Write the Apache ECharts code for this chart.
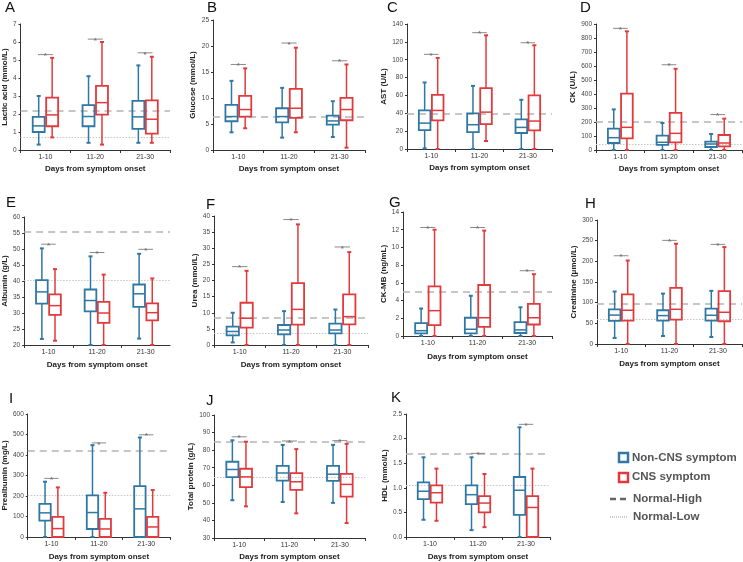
<!DOCTYPE html>
<html>
<head>
    <meta charset="UTF-8">
    <title>Blood tests by days from symptom onset</title>
    <script type="text/javascript" src="https://cdn.jsdelivr.net/npm/echarts@6/dist/echarts.min.js"></script>
    <style>
        html, body { margin: 0; padding: 0; background: #fff; }
        #main { width: 743px; height: 562px; }
    </style>
</head>
<body>
<div id="main"></div>
<script type="text/javascript">
    var categories = ['1-10', '11-20', '21-30'];

    // every box: [min, Q1, median, Q3, max], one per period
    // ref: [Normal-High, Normal-Low], scale: [min, max, interval]
    var lacticNon = [[0.3, 1.0, 1.34, 1.84, 3.0], [0.4, 1.32, 1.86, 2.49, 4.1], [0.4, 1.17, 1.84, 2.73, 4.7]];
    var lacticCns = [[0.7, 1.32, 1.95, 2.91, 5.12], [0.3, 1.97, 2.63, 3.56, 6.0], [0.4, 0.91, 1.71, 2.76, 5.18]];
    var lacticSig = [5.3, 6.16, 5.4];
    var lacticRef = [2.2, 0.7];
    var lacticScale = [0, 7, 1];

    var glucoseNon = [[3.4, 5.53, 6.43, 8.68, 13.3], [2.38, 5.33, 6.43, 8.03, 11.95], [2.5, 4.88, 5.59, 6.62, 9.38]];
    var glucoseCns = [[4.18, 6.43, 7.78, 10.4, 15.7], [3.4, 6.17, 8.03, 11.76, 19.67], [0.45, 5.72, 7.78, 10.03, 16.45]];
    var glucoseSig = [16.45, 20.57, 17.16];
    var glucoseRef = [6.3, null];
    var glucoseScale = [0, 25, 5];

    var astNon = [[0.7, 21.2, 29, 43.2, 74.5], [0, 19, 27.2, 39.8, 70.7], [0, 17.9, 24.2, 33.1, 55.1]];
    var astCns = [[0, 32, 43.2, 60.7, 102], [8.9, 27.9, 41.3, 68.1, 127.3], [0, 20.8, 31.3, 60, 116.2]];
    var astSig = [106, 130.3, 119];
    var astRef = [40, null];
    var astScale = [0, 140, 20];

    var ckNon = [[0, 50, 88, 152.8, 290], [0, 36, 55, 102.6, 193], [0, 21.5, 43, 59.7, 114.6]];
    var ckCns = [[0, 83.5, 162, 403, 847.5], [0, 55, 119, 265, 580], [0, 26, 50, 107, 224]];
    var ckSig = [869, 609, 253];
    var ckRef = [200, 38];
    var ckScale = [0, 900, 100];

    var albuminNon = [[21.9, 32.9, 36.6, 40.3, 50.2], [20, 30.5, 33.9, 37.35, 47.7], [22, 31.9, 36, 38.9, 48.5]];
    var albuminCns = [[21.35, 29.4, 32.3, 35.8, 43.7], [20, 26.9, 30, 33.5, 42], [20, 27.7, 30.1, 33, 40.8]];
    var albuminSig = [51.5, 48.9, 49.9];
    var albuminRef = [55.3, 40.2];
    var albuminScale = [20, 60, 5];

    var ureaNon = [[0.8, 3.0, 4.2, 5.7, 10], [0, 3.3, 4.65, 6.2, 10.5], [0, 3.6, 4.65, 6.6, 11]];
    var ureaCns = [[0, 5.4, 8.3, 13.1, 23], [0, 6.3, 11.05, 19.2, 37.4], [0, 6.4, 8.8, 15.7, 28.8]];
    var ureaSig = [24.3, 38.9, 30.4];
    var ureaRef = [8.6, 3.5];
    var ureaScale = [0, 40, 5];

    var ckmbNon = [[0, 0.3, 0.6, 1.45, 3.1], [0, 0.3, 0.76, 2.06, 4.54], [0, 0.34, 0.69, 1.56, 3.24]];
    var ckmbCns = [[0, 1.22, 2.86, 5.6, 12.0], [0, 1.03, 2.06, 5.76, 11.9], [0, 1.3, 2.06, 3.63, 6.98]];
    var ckmbSig = [12.25, 12.25, 7.37];
    var ckmbRef = [5, null];
    var ckmbScale = [0, 14, 2];

    var creatNon = [[14.6, 56, 70, 84, 127], [19.4, 56.6, 68.7, 81.7, 122], [17, 56.6, 69.5, 85.7, 128.6]];
    var creatCns = [[0, 56.6, 81.7, 120, 202], [0, 59, 84, 135.8, 242.6], [0, 55, 76.8, 127.8, 234.5]];
    var creatSig = [213.5, 250.7, 241];
    var creatRef = [97, 59];
    var creatScale = [0, 300, 50];

    var preNon = [[0, 80, 117.7, 162, 269.7], [0, 39, 119.3, 202.7, 448], [0, 0, 137.3, 248.5, 485.5]];
    var preCns = [[0, 0, 41, 98, 242], [0, 0, 39.2, 88.3, 215.8], [0, 0, 49, 98, 229]];
    var preSig = [286, 459, 498.6];
    var preRef = [423, 202];
    var preScale = [0, 600, 100];

    var proteinNon = [[51.5, 64.6, 69, 73.4, 85.6], [50.5, 62.7, 67, 71, 83], [50, 62.5, 66.3, 71, 83]];
    var proteinCns = [[48, 59, 64.8, 69.4, 84.8], [44, 57.4, 62, 66.9, 80.6], [38.5, 53.5, 60.5, 66.5, 83.6]];
    var proteinSig = [87.6, 85.2, 85.4];
    var proteinRef = [85, 64.4];
    var proteinScale = [30, 100, 10];

    var hdlNon = [[0.35, 0.77, 0.93, 1.11, 1.62], [0.14, 0.67, 0.86, 1.05, 1.62], [0, 0.45, 0.95, 1.22, 2.23]];
    var hdlCns = [[0.33, 0.7, 0.9, 1.05, 1.39], [0.2, 0.5, 0.69, 0.83, 1.28], [0, 0, 0.6, 0.83, 1.39]];
    var hdlSig = [null, 1.7, 2.29];
    var hdlRef = [1.7, 1.05];
    var hdlScale = [0, 2.5, 0.5];

    var panels = [
        {letter: 'A', name: 'Lactic acid (mmol/L)', non: lacticNon, cns: lacticCns, sig: lacticSig, ref: lacticRef, scale: lacticScale},
        {letter: 'B', name: 'Glucose (mmol/L)', non: glucoseNon, cns: glucoseCns, sig: glucoseSig, ref: glucoseRef, scale: glucoseScale},
        {letter: 'C', name: 'AST (U/L)', non: astNon, cns: astCns, sig: astSig, ref: astRef, scale: astScale},
        {letter: 'D', name: 'CK (U/L)', non: ckNon, cns: ckCns, sig: ckSig, ref: ckRef, scale: ckScale},
        {letter: 'E', name: 'Albumin (g/L)', non: albuminNon, cns: albuminCns, sig: albuminSig, ref: albuminRef, scale: albuminScale},
        {letter: 'F', name: 'Urea (mmol/L)', non: ureaNon, cns: ureaCns, sig: ureaSig, ref: ureaRef, scale: ureaScale},
        {letter: 'G', name: 'CK-MB (ng/mL)', non: ckmbNon, cns: ckmbCns, sig: ckmbSig, ref: ckmbRef, scale: ckmbScale},
        {letter: 'H', name: 'Creatinine (μmol/L)', non: creatNon, cns: creatCns, sig: creatSig, ref: creatRef, scale: creatScale},
        {letter: 'I', name: 'Prealbumin (mg/L)', non: preNon, cns: preCns, sig: preSig, ref: preRef, scale: preScale},
        {letter: 'J', name: 'Total protein (g/L)', non: proteinNon, cns: proteinCns, sig: proteinSig, ref: proteinRef, scale: proteinScale},
        {letter: 'K', name: 'HDL (mmol/L)', non: hdlNon, cns: hdlCns, sig: hdlSig, ref: hdlRef, scale: hdlScale}
    ];

    // grid boxes and label spots, in px
    var layout = [
        {left: 20, top: 24, width: 150, height: 126, gap: 11, tgap: 15, lx: 5, ly: 0},
        {left: 213, top: 20, width: 152, height: 130, gap: 16, tgap: 15, lx: 207, ly: 0},
        {left: 407, top: 24, width: 145, height: 125, gap: 18, tgap: 15, lx: 387, ly: 0},
        {left: 596, top: 24, width: 146, height: 126, gap: 14, tgap: 15, lx: 580, ly: 0},
        {left: 23, top: 217, width: 147, height: 128, gap: 11, tgap: 16, lx: 6, ly: 195},
        {left: 214, top: 216, width: 154, height: 129, gap: 9, tgap: 16, lx: 206, ly: 197},
        {left: 403, top: 212, width: 149, height: 124, gap: 14, tgap: 17, lx: 389, ly: 195},
        {left: 597, top: 220, width: 145, height: 124, gap: 18, tgap: 16, lx: 585, ly: 196},
        {left: 25, top: 414, width: 145, height: 123, gap: 17, tgap: 16, lx: 9, ly: 391},
        {left: 214, top: 415, width: 151, height: 123, gap: 18, tgap: 15, lx: 206, ly: 393},
        {left: 406, top: 414, width: 144, height: 123, gap: 17, tgap: 16, lx: 391, ly: 390}
    ];

    var BLUE = '#2f78a4';
    var RED = '#e23a3c';
    var FONT = '"Liberation Sans", Arial, sans-serif';

    function renderBox(params, api) {
        var cat = api.value(0);
        var grp = api.value(1);
        var band = api.size([1, 0])[0];
        var off = (grp === 0 ? -1 : 1) * band * 0.135;
        var hw = band * 0.12;
        var pMin = api.coord([cat, api.value(2)]);
        var pQ1 = api.coord([cat, api.value(3)]);
        var pMed = api.coord([cat, api.value(4)]);
        var pQ3 = api.coord([cat, api.value(5)]);
        var pMax = api.coord([cat, api.value(6)]);
        var x = pMin[0] + off;
        var color = grp === 0 ? BLUE : RED;
        var st = {stroke: color, lineWidth: 1.5, fill: null};
        var cap = {stroke: color, lineWidth: 2};
        return {
            type: 'group',
            children: [
                {type: 'line', shape: {x1: x, y1: pMax[1], x2: x, y2: pQ3[1]}, style: st},
                {type: 'line', shape: {x1: x, y1: pQ1[1], x2: x, y2: pMin[1]}, style: st},
                {type: 'line', shape: {x1: x - 2, y1: pMax[1], x2: x + 2, y2: pMax[1]}, style: cap},
                {type: 'line', shape: {x1: x - 2, y1: pMin[1], x2: x + 2, y2: pMin[1]}, style: cap},
                {type: 'rect', shape: {x: x - hw, y: pQ3[1], width: hw * 2, height: pQ1[1] - pQ3[1]},
                    style: {stroke: color, lineWidth: 1.8, fill: 'rgba(255,255,255,0)'}},
                {type: 'line', shape: {x1: x - hw, y1: pMed[1], x2: x + hw, y2: pMed[1]}, style: {stroke: color, lineWidth: 1.5}}
            ]
        };
    }

    function renderSig(params, api) {
        var p = api.coord([api.value(0), api.value(1)]);
        var band = api.size([1, 0])[0];
        var hw = band * 0.15;
        return {
            type: 'group',
            children: [
                {type: 'line', shape: {x1: p[0] - hw, y1: p[1], x2: p[0] + hw, y2: p[1]}, style: {stroke: '#8a8a8a', lineWidth: 1}},
                {type: 'text', x: p[0], y: p[1] + 1.5,
                    style: {text: '*', fill: '#777', font: 'bold 8px ' + FONT, align: 'center', verticalAlign: 'middle'}}
            ]
        };
    }

    var grids = [], xAxes = [], yAxes = [], series = [], graphics = [];

    panels.forEach(function (p, i) {
        var l = layout[i];
        grids.push({left: l.left, top: l.top, width: l.width, height: l.height});
        xAxes.push({
            type: 'category', gridIndex: i, data: categories,
            name: 'Days from symptom onset', nameLocation: 'middle', nameGap: l.tgap,
            nameTextStyle: {fontFamily: FONT, fontSize: 8, fontWeight: 'bold', color: '#222'},
            axisLine: {lineStyle: {color: '#333', width: 1}},
            axisTick: {show: true, length: 3, lineStyle: {color: '#333'}},
            axisLabel: {fontFamily: FONT, fontSize: 7, color: '#333', margin: 4}
        });
        yAxes.push({
            type: 'value', gridIndex: i,
            min: p.scale[0], max: p.scale[1], interval: p.scale[2],
            name: p.name, nameLocation: 'middle', nameGap: l.gap, nameRotate: 90,
            nameTextStyle: {fontFamily: FONT, fontSize: 8, fontWeight: 'bold', color: '#222'},
            splitLine: {show: false},
            axisLine: {show: true, lineStyle: {color: '#333', width: 1}},
            axisTick: {show: true, length: 2, lineStyle: {color: '#333'}},
            axisLabel: {
                fontFamily: FONT, fontSize: 6.5, color: '#444', margin: 4,
                formatter: p.scale[2] < 1 ? function (v) { return v.toFixed(1); } : null
            }
        });

        var boxes = [];
        for (var c = 0; c < categories.length; c++) {
            boxes.push([c, 0].concat(p.non[c]));
            boxes.push([c, 1].concat(p.cns[c]));
        }
        var refLines = [];
        if (p.ref[0] != null) {
            refLines.push({yAxis: p.ref[0], lineStyle: {color: '#b4b4b4', width: 1.6, type: [7, 5]}});
        }
        if (p.ref[1] != null) {
            refLines.push({yAxis: p.ref[1], lineStyle: {color: '#c6c6c6', width: 1, type: [1.5, 1.5]}});
        }
        series.push({
            type: 'custom', xAxisIndex: i, yAxisIndex: i,
            renderItem: renderBox,
            encode: {x: 0, y: [2, 3, 4, 5, 6]},
            data: boxes,
            z: 3,
            markLine: {
                silent: true, symbol: ['none', 'none'], label: {show: false},
                animation: false, z: 2,
                data: refLines
            }
        });

        var sigs = [];
        p.sig.forEach(function (v, c) { if (v != null) sigs.push([c, v]); });
        series.push({
            type: 'custom', xAxisIndex: i, yAxisIndex: i,
            renderItem: renderSig,
            encode: {x: 0, y: 1},
            data: sigs,
            z: 4
        });

        graphics.push({
            type: 'text', left: l.lx, top: l.ly,
            style: {text: p.letter, font: '15px ' + FONT, fill: '#111'}
        });
    });

    // legend in the empty last cell
    graphics.push(
        {type: 'rect', shape: {x: 619, y: 453, width: 9, height: 9}, style: {fill: '#fff', stroke: BLUE, lineWidth: 2.5}},
        {type: 'text', x: 632, y: 458, style: {text: 'Non-CNS symptom', font: 'bold 11.5px ' + FONT, fill: '#555', verticalAlign: 'middle'}},
        {type: 'rect', shape: {x: 619, y: 473, width: 9, height: 9}, style: {fill: '#fff', stroke: RED, lineWidth: 2.5}},
        {type: 'text', x: 632, y: 477, style: {text: 'CNS symptom', font: 'bold 11.5px ' + FONT, fill: '#555', verticalAlign: 'middle'}},
        {type: 'line', shape: {x1: 610, y1: 499, x2: 627, y2: 499}, style: {stroke: '#666', lineWidth: 2.5, lineDash: [6, 4]}},
        {type: 'text', x: 633, y: 499, style: {text: 'Normal-High', font: 'bold 11.5px ' + FONT, fill: '#555', verticalAlign: 'middle'}},
        {type: 'line', shape: {x1: 610, y1: 517, x2: 627, y2: 517}, style: {stroke: '#999', lineWidth: 1, lineDash: [1, 1]}},
        {type: 'text', x: 633, y: 517, style: {text: 'Normal-Low', font: 'bold 11.5px ' + FONT, fill: '#555', verticalAlign: 'middle'}}
    );

    var myChart = echarts.init(document.getElementById('main'));
    myChart.setOption({
        animation: false,
        backgroundColor: '#fff',
        grid: grids,
        xAxis: xAxes,
        yAxis: yAxes,
        series: series,
        graphic: graphics
    });
</script>
</body>
</html>
